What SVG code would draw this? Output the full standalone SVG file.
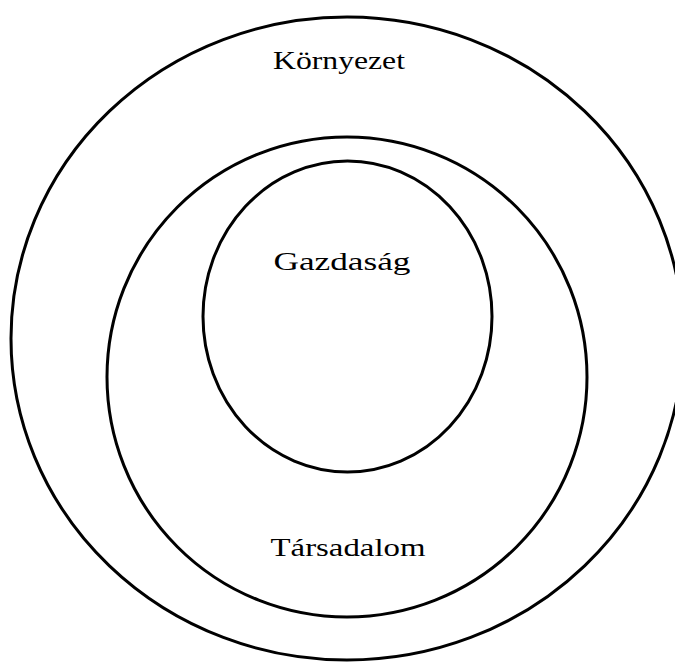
<svg xmlns="http://www.w3.org/2000/svg" width="675" height="662" viewBox="0 0 675 662">
<style>
.ring{fill:none;stroke:#000;stroke-width:3}
.lbl{font-family:"Liberation Serif","DejaVu Serif",serif;font-size:25px;fill:#000;text-anchor:middle}
</style>
<rect width="675" height="662" fill="#fff"/>
<g id="kornyezet">
<ellipse class="ring" cx="347" cy="338.5" rx="336" ry="321.5"/>
<text class="lbl" x="339" y="69" textLength="132" lengthAdjust="spacingAndGlyphs">Környezet</text>
</g>
<g id="tarsadalom">
<circle class="ring" cx="347" cy="377" r="240"/>
<text class="lbl" x="348" y="556" textLength="155" lengthAdjust="spacingAndGlyphs">Társadalom</text>
</g>
<g id="gazdasag">
<ellipse class="ring" cx="347.5" cy="316.5" rx="144.5" ry="155.5"/>
<text class="lbl" x="342" y="270" textLength="137" lengthAdjust="spacingAndGlyphs">Gazdaság</text>
</g>
<g id="connectors"/>
</svg>
